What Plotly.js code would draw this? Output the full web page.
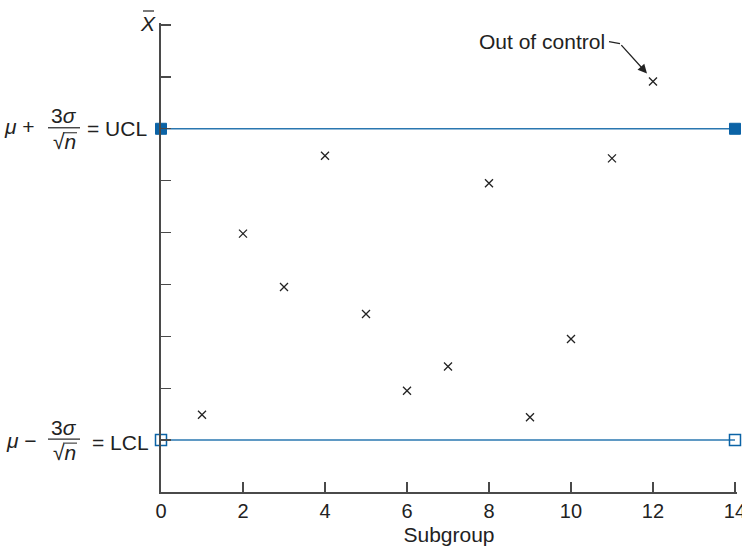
<!DOCTYPE html>
<html>
<head>
<meta charset="utf-8">
<script src="https://cdn.plot.ly/plotly-3.0.1.min.js"></script>
<style>html,body{margin:0;padding:0;background:#fff}#chart{width:742px;height:550px}</style>
</head>
<body>
<div id="chart"></div>
<script>
// Data
const subgroup = [1, 2, 3, 4, 5, 6, 7, 8, 9, 10, 11, 12];
const xbar = [1.49, 4.98, 3.95, 6.48, 3.43, 1.95, 2.42, 5.95, 1.44, 2.95, 6.43, 7.91];
const limitX = [0, 14];
const UCL = 7;
const LCL = 1;
const xTicks = [0, 2, 4, 6, 8, 10, 12, 14];
const yTicks = [0, 1, 2, 3, 4, 5, 6, 7, 8, 9];

const lineColor = '#2a77b0';
const markColor = '#0b63a6';
const axisColor = '#4a4a4a';
const FONT = 'Liberation Sans, Arial, Helvetica, sans-serif';

const traces = [
  {
    x: limitX, y: limitX.map(() => UCL), mode: 'lines+markers', type: 'scatter',
    line: {color: lineColor, width: 1.5},
    marker: {symbol: 'square', size: 11, color: markColor, line: {color: markColor, width: 1}},
    cliponaxis: false, hoverinfo: 'skip'
  },
  {
    x: limitX, y: limitX.map(() => LCL), mode: 'lines+markers', type: 'scatter',
    line: {color: lineColor, width: 1.5},
    marker: {symbol: 'square-open', size: 11, color: markColor, line: {color: markColor, width: 1.5}},
    cliponaxis: false, hoverinfo: 'skip'
  },
  {
    x: subgroup, y: xbar, mode: 'markers', type: 'scatter',
    marker: {symbol: 'x-thin', size: 8, color: '#222', line: {color: '#222', width: 1.3}},
    cliponaxis: false
  }
];

const fs = 21;
function ann(text, xs, yval, ys, anchor, extra) {
  return Object.assign({
    text: text, xref: 'paper', x: 0, xshift: xs, xanchor: anchor,
    yref: 'y', y: yval, yshift: ys, yanchor: 'middle',
    showarrow: false, font: {family: FONT, size: fs, color: '#222'}
  }, extra || {});
}

const annotations = [
  // UCL label (xshift relative to plot left edge at 161px)
  ann('<i>μ</i> +', -124, UCL, 2, 'right'),
  ann('3<i>σ</i>', -97, UCL, 13, 'center'),
  ann('√<i>n</i>', -97, UCL, -13, 'center'),
  ann('= UCL', -12, UCL, 0, 'right'),
  // LCL label
  ann('<i>μ</i> −', -122, LCL, 0, 'right'),
  ann('3<i>σ</i>', -97, LCL, 13, 'center'),
  ann('√<i>n</i>', -97, LCL, -12, 'center'),
  ann('= LCL', -10, LCL, -2, 'right'),
  // X-bar label
  {text: '<i>X</i>', xref: 'paper', x: 0, xshift: -13, xanchor: 'center',
   yref: 'paper', y: 1, yshift: 0, yanchor: 'middle', showarrow: false,
   font: {family: FONT, size: fs, color: '#222'}},
  // Out of control
  {text: 'Out of control', xref: 'x', x: 12, xshift: -46, xanchor: 'right',
   yref: 'y', y: xbar[11], yshift: 40, yanchor: 'middle', showarrow: false,
   font: {family: FONT, size: fs, color: '#222'}},
  {text: '', xref: 'x', x: 12, xshift: -6, yref: 'y', y: xbar[11], yshift: 8,
   showarrow: true, arrowhead: 2, arrowsize: 1.4, arrowwidth: 1.3, arrowcolor: '#222',
   axref: 'pixel', ayref: 'pixel', ax: -27, ay: -30, standoff: 0}
];

const shapes = [
  // fraction bars
  {type: 'line', xref: 'paper', xsizemode: 'pixel', xanchor: 0, x0: -113, x1: -81,
   yref: 'y', ysizemode: 'pixel', yanchor: UCL, y0: 1, y1: 1, line: {color: '#222', width: 1.2}},
  {type: 'line', xref: 'paper', xsizemode: 'pixel', xanchor: 0, x0: -113, x1: -81,
   yref: 'y', ysizemode: 'pixel', yanchor: LCL, y0: 1, y1: 1, line: {color: '#222', width: 1.2}},
  // vinculum over n
  {type: 'line', xref: 'paper', xsizemode: 'pixel', xanchor: 0, x0: -98, x1: -84,
   yref: 'y', ysizemode: 'pixel', yanchor: UCL, y0: -4, y1: -4, line: {color: '#222', width: 1}},
  {type: 'line', xref: 'paper', xsizemode: 'pixel', xanchor: 0, x0: -98, x1: -84,
   yref: 'y', ysizemode: 'pixel', yanchor: LCL, y0: -3, y1: -3, line: {color: '#222', width: 1}},
  // bar over X
  {type: 'line', xref: 'paper', xsizemode: 'pixel', xanchor: 0, x0: -18, x1: -7,
   yref: 'paper', ysizemode: 'pixel', yanchor: 1, y0: 12, y1: 12, line: {color: '#222', width: 1.2}},
  // short horizontal lead of the arrow
  {type: 'line', xref: 'x', xsizemode: 'pixel', xanchor: 12, x0: -44, x1: -33,
   yref: 'y', ysizemode: 'pixel', yanchor: xbar[11], y0: 40, y1: 38, line: {color: '#222', width: 1.3}}
];

const layout = {
  width: 742, height: 550,
  margin: {l: 161, r: 5, t: 22.5, b: 57.5, pad: 0},
  paper_bgcolor: '#fff', plot_bgcolor: '#fff',
  showlegend: false,
  font: {family: FONT, size: fs, color: '#222'},
  xaxis: {
    range: [0, 14.049], tickvals: xTicks, ticktext: xTicks.map(String),
    ticks: 'inside', ticklen: 10, tickwidth: 1.3, tickcolor: axisColor,
    ticklabeloverflow: 'allow',
    showline: true, linecolor: axisColor, linewidth: 2,
    showgrid: false, zeroline: false,
    tickfont: {family: FONT, size: 20, color: '#222'},
    title: {text: 'Subgroup', font: {family: FONT, size: fs, color: '#222'}, standoff: 6}
  },
  yaxis: {
    range: [0, 9.0385], tickvals: yTicks,
    ticks: 'inside', ticklen: 10, tickwidth: 1.3, tickcolor: axisColor,
    showticklabels: false,
    showline: true, linecolor: axisColor, linewidth: 2,
    showgrid: false, zeroline: false
  },
  annotations: annotations,
  shapes: shapes
};

Plotly.newPlot('chart', traces, layout, {displayModeBar: false, staticPlot: true});
</script>
</body>
</html>
